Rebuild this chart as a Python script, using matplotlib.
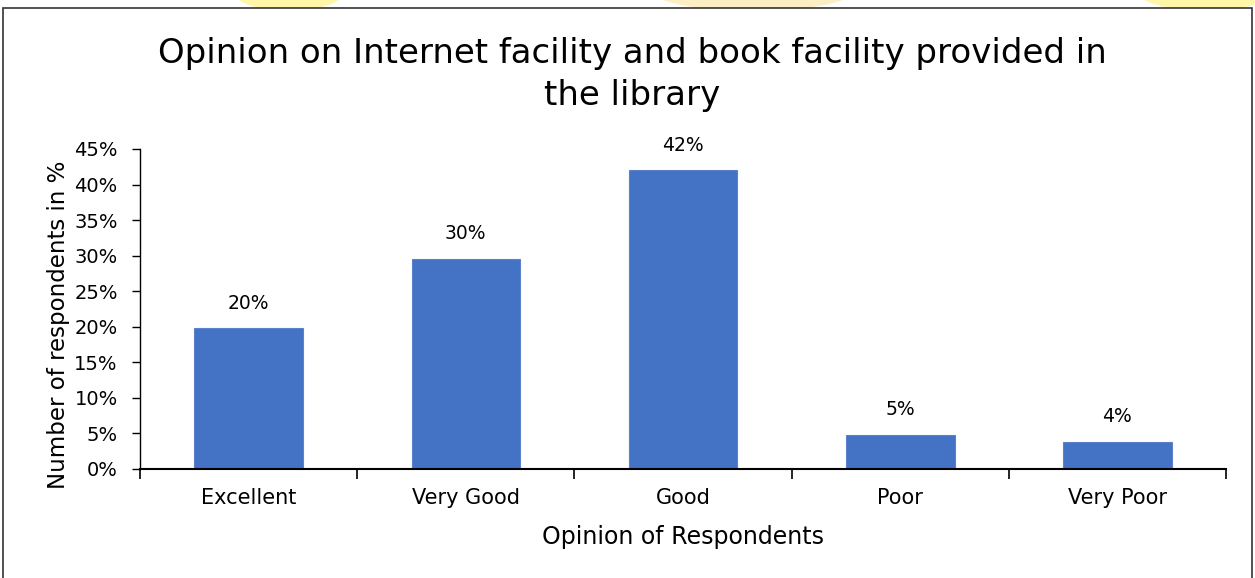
import matplotlib.pyplot as plt
from matplotlib.patches import Rectangle, Ellipse

categories = ['Excellent', 'Very Good', 'Good', 'Poor', 'Very Poor']
values = [19.8, 29.6, 42.0, 4.8, 3.8]
labels = ['20%', '30%', '42%', '5%', '4%']
yticks = [0, 5, 10, 15, 20, 25, 30, 35, 40, 45]

plt.rcParams['font.family'] = ['DejaVu Sans']

fig = plt.figure(figsize=(12.55, 5.78), dpi=100)

# faint watermark shapes peeking above the frame
for cx, w, col in [(0.23, 0.1, '#fff6a8'), (0.6, 0.18, '#fdefc4'), (0.96, 0.12, '#fff6a8')]:
    fig.patches.append(Ellipse((cx, 1.03), w, 0.1, transform=fig.transFigure,
                               facecolor=col, edgecolor='none', zorder=0))

# chart frame
fig.patches.append(Rectangle((3 / 1255, -0.01), 1249 / 1255, 1 - 8 / 578 + 0.01,
                             transform=fig.transFigure, facecolor='white',
                             edgecolor='#333333', linewidth=1.2, zorder=1))

ax = fig.add_axes([140 / 1255, 1 - 469 / 578, 1086 / 1255, 320 / 578])
ax.set_zorder(2)
ax.patch.set_alpha(0)

x = list(range(len(categories)))
ax.bar(x, values, width=0.5, color='#4472C4', edgecolor='#5b82cc', linewidth=0.8)
for xi, v, lab in zip(x, values, labels):
    ax.text(xi, v + 2.2, lab, ha='center', va='bottom', fontsize=13.5)

ax.set_xlim(-0.5, len(categories) - 0.5)
ax.set_ylim(0, 45)
ax.set_yticks(yticks)
ax.set_yticklabels([f'{t}%' for t in yticks], fontsize=14)
ax.set_xticks(x)
ax.set_xticklabels(categories, fontsize=15)
ax.set_xticks([i - 0.5 for i in range(len(categories) + 1)], minor=True)
ax.tick_params(axis='x', which='major', length=0, pad=14)
ax.tick_params(axis='x', which='minor', length=7, width=1.2, direction='out')
ax.tick_params(axis='y', length=6, width=1.0, direction='out', pad=10)

for s in ['top', 'right']:
    ax.spines[s].set_visible(False)
ax.spines['bottom'].set_linewidth(1.5)
ax.spines['left'].set_linewidth(1.0)

ax.set_xlabel('Opinion of Respondents', fontsize=17, labelpad=12)
ax.set_ylabel('Number of respondents in %', fontsize=16.5)
ax.yaxis.set_label_coords(-0.064, 0.45)
fig.text(632 / 1255, 1 - 37 / 578,
         'Opinion on Internet facility and book facility provided in\nthe library',
         ha='center', va='top', fontsize=24.5, linespacing=1.35)

fig.savefig('out.png', dpi=100)
